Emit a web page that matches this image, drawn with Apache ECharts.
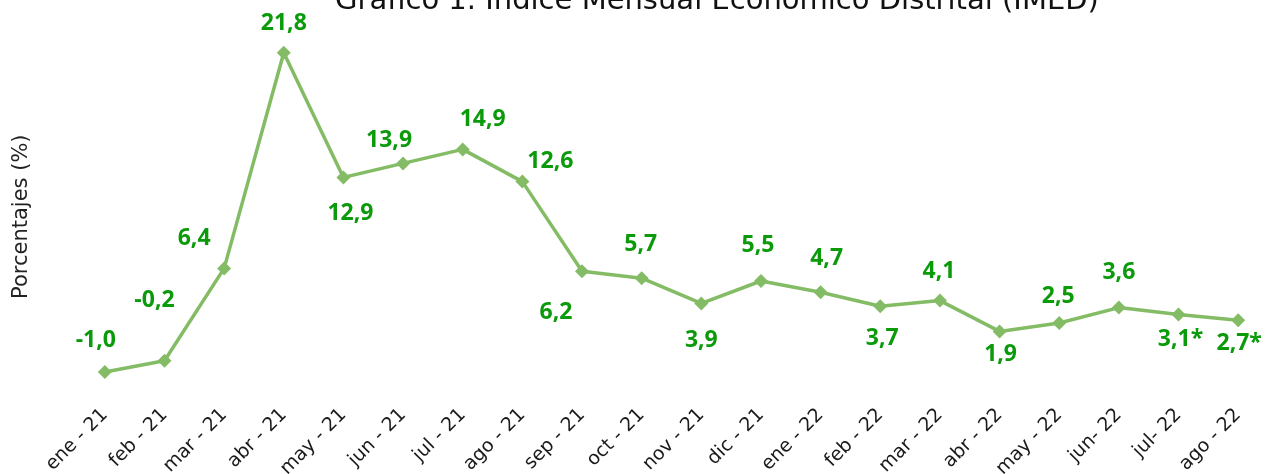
<!DOCTYPE html>
<html>
<head>
<meta charset="utf-8">
<script src="https://cdn.jsdelivr.net/npm/echarts@6/dist/echarts.min.js"></script>
<style>
  html, body { margin: 0; padding: 0; background: #fff; }
  #imed { width: 1273px; height: 474px; }
</style>
</head>
<body>
<div id="imed"></div>
<script>
// meses y valores del IMED (%)
const meses = ['ene - 21', 'feb - 21', 'mar - 21', 'abr - 21', 'may - 21', 'jun - 21', 'jul - 21',
  'ago - 21', 'sep - 21', 'oct - 21', 'nov - 21', 'dic - 21', 'ene - 22', 'feb - 22', 'mar - 22',
  'abr - 22', 'may - 22', 'jun- 22', 'jul- 22', 'ago - 22'];
const imed = [-1.0, -0.2, 6.4, 21.8, 12.9, 13.9, 14.9, 12.6, 6.2, 5.7, 3.9, 5.5, 4.7, 3.7, 4.1,
  1.9, 2.5, 3.6, 3.1, 2.7];
const preliminar = [18, 19]; // marcados con *

// desplazamiento de cada etiqueta respecto al punto
const offsets = [[-9, -32], [-10, -60], [-30, -30], [0, -29], [7, 36], [-14, -23], [20, -30],
  [28, -20], [-26, 41], [-1, -34], [0, 37], [-3, -36], [6, -34], [2, 32], [-1, -29], [1, 23],
  [-1, -27], [0, -35], [2, 25], [1, 23]];

let myChart = echarts.init(document.getElementById('imed'));

myChart.setOption({
  animation: false,
  title: {
    text: 'Gráfico 1. Índice Mensual Económico Distrital (IMED)',
    left: 330,
    top: -18,
    textStyle: { fontFamily: 'DejaVu Sans', fontWeight: 'normal', fontSize: 29, color: '#111' }
  },
  grid: { left: 75, right: 5, top: 22, bottom: 88, outerBoundsMode: 'none', containLabel: false },
  graphic: [{
    type: 'text',
    x: 11,
    y: 299,
    rotation: Math.PI / 2,
    style: { text: 'Porcentajes (%)', font: '21px "DejaVu Sans"', fill: '#222' }
  }],
  xAxis: {
    type: 'category',
    data: meses,
    boundaryGap: true,
    axisLine: { show: false },
    axisTick: { show: false },
    axisLabel: {
      rotate: 45,
      margin: 26,
      interval: 0,
      fontFamily: 'DejaVu Sans',
      fontSize: 19,
      color: '#1a1a1a'
    }
  },
  yAxis: {
    type: 'value',
    min: -2,
    max: 24,
    show: false
  },
  series: [{
    type: 'line',
    data: imed.map((v, i) => ({
      value: v,
      label: { offset: offsets[i] }
    })),
    symbol: 'diamond',
    symbolSize: 14,
    lineStyle: { color: '#84bc66', width: 3.5 },
    itemStyle: { color: '#84bc66' },
    label: {
      show: true,
      position: 'inside',
      align: 'center',
      verticalAlign: 'middle',
      fontFamily: 'Open Sans',
      fontWeight: 'bold',
      fontSize: 23,
      color: '#0a9a0a',
      formatter: p => p.value.toFixed(1).replace('.', ',') + (preliminar.includes(p.dataIndex) ? '*' : '')
    }
  }]
});
</script>
</body>
</html>
